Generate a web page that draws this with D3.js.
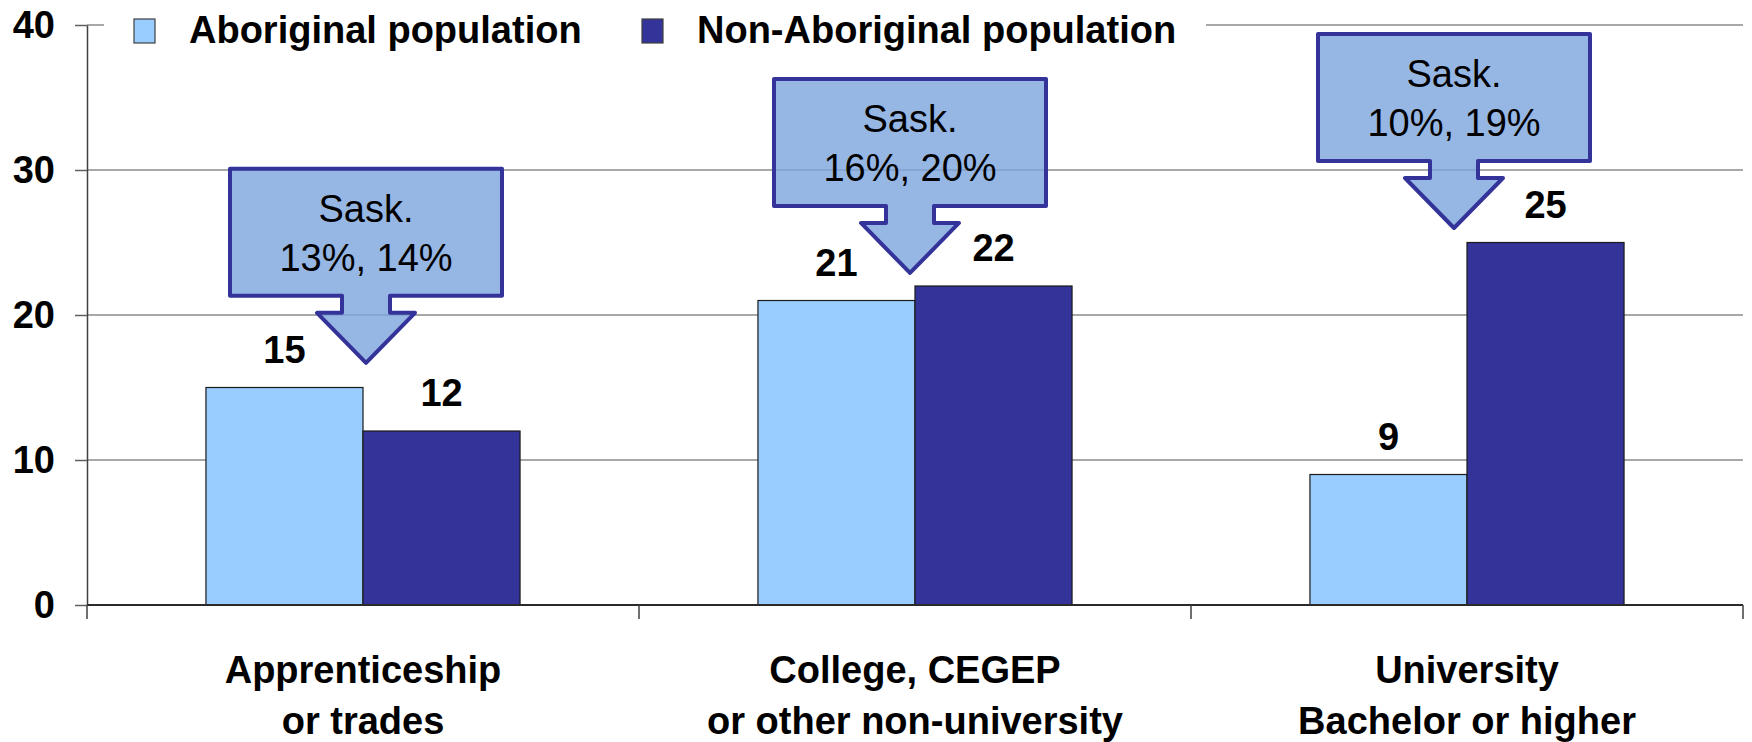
<!DOCTYPE html>
<html>
<head>
<meta charset="utf-8">
<script src="https://cdn.jsdelivr.net/npm/d3@7"></script>
<style>
  html, body { margin: 0; padding: 0; background: #fff; }
  svg { display: block; }
  text { font-family: "Liberation Sans", Arial, Helvetica, sans-serif; fill: #000; }
</style>
</head>
<body>
<svg id="chart" width="1752" height="742"></svg>
<script>
// Education attainment by population group (%)
const categories = [
  ["Apprenticeship", "or trades"],
  ["College, CEGEP", "or other non-university"],
  ["University", "Bachelor or higher"]
];
const categoryKeys = ["apprentice", "college", "university"];
const seriesNames = ["Aboriginal population", "Non-Aboriginal population"];
const aboriginal = [15, 21, 9];
const nonAboriginal = [12, 22, 25];
const yTicks = [0, 10, 20, 30, 40];

// Saskatchewan comparison call-outs
const calloutLines = [
  ["Sask.", "13%, 14%"],
  ["Sask.", "16%, 20%"],
  ["Sask.", "10%, 19%"]
];
const calloutTipValues = [16.7, 22.9, 26.0];
const calloutNudge = [3, -5, -13];

const seriesColors = ["#99CCFF", "#333399"];

const svg = d3.select("#chart");
const plotLeft = 87, plotRight = 1743, plotTop = 25, plotBottom = 605;

const x0 = d3.scaleBand().domain(categoryKeys).range([plotLeft, plotRight]).padding(0);
const bw = x0.bandwidth();
const x1 = d3.scaleBand().domain(seriesNames).range([bw * 0.2155, bw * 0.7845]).padding(0);
const y = d3.scaleLinear().domain([0, 40]).range([plotBottom, plotTop]);
const color = d3.scaleOrdinal().domain(seriesNames).range(seriesColors);

const rows = categoryKeys.map((k, i) => ({
  key: k,
  values: [
    { series: seriesNames[0], value: aboriginal[i] },
    { series: seriesNames[1], value: nonAboriginal[i] }
  ]
}));

// Gridlines
svg.append("g")
  .selectAll("line")
  .data(yTicks.filter(t => t > 0))
  .join("line")
  .attr("x1", plotLeft).attr("x2", plotRight)
  .attr("y1", d => y(d)).attr("y2", d => y(d))
  .attr("stroke", "#a8a8a8").attr("stroke-width", 2);

// Bars
const groups = svg.append("g")
  .selectAll("g")
  .data(rows)
  .join("g")
  .attr("transform", d => `translate(${x0(d.key)},0)`);

groups.selectAll("rect")
  .data(d => d.values)
  .join("rect")
  .attr("x", d => x1(d.series))
  .attr("y", d => y(d.value))
  .attr("width", x1.bandwidth())
  .attr("height", d => y(0) - y(d.value))
  .attr("fill", d => color(d.series))
  .attr("stroke", "#1a1a1a")
  .attr("stroke-width", 1.2);

// Value labels
groups.selectAll("text.value")
  .data(d => d.values)
  .join("text")
  .attr("class", "value")
  .attr("x", d => x1(d.series) + x1.bandwidth() / 2)
  .attr("y", d => y(d.value) - 25)
  .attr("text-anchor", "middle")
  .style("font-size", "38px")
  .style("font-weight", "bold")
  .text(d => d.value);

// Call-out arrows
const boxW = 272, boxH = 127, stemW = 48, stemL = 17, headW = 98, headH = 50;
function calloutPath(cx, tipY) {
  const t = tipY - (boxH + stemL + headH);
  const b = t + boxH, s = b + stemL;
  return `M${cx - boxW / 2},${t}H${cx + boxW / 2}V${b}H${cx + stemW / 2}V${s}` +
         `H${cx + headW / 2}L${cx},${tipY}L${cx - headW / 2},${s}H${cx - stemW / 2}V${b}H${cx - boxW / 2}Z`;
}
const callouts = svg.append("g")
  .selectAll("g")
  .data(categoryKeys.map((k, i) => ({
    cx: x0(k) + bw / 2 + calloutNudge[i],
    tip: y(calloutTipValues[i]),
    lines: calloutLines[i]
  })))
  .join("g");

callouts.append("path")
  .attr("d", d => calloutPath(d.cx, d.tip))
  .attr("fill", "#7ca4dd")
  .attr("fill-opacity", 0.8)
  .attr("stroke", "#333399")
  .attr("stroke-width", 4)
  .attr("stroke-linejoin", "round");

callouts.each(function(d) {
  const t = d.tip - (boxH + stemL + headH);
  d3.select(this).selectAll("text")
    .data(d.lines)
    .join("text")
    .attr("x", d.cx)
    .attr("y", (l, j) => t + 53 + j * 49)
    .attr("text-anchor", "middle")
    .style("font-size", "38px")
    .text(l => l);
});

// Y axis
const yAxis = svg.append("g")
  .attr("transform", `translate(${plotLeft},0)`)
  .call(d3.axisLeft(y).tickValues(yTicks).tickSize(12).tickPadding(20).tickSizeOuter(0));
yAxis.select(".domain").attr("stroke", "#404040").attr("stroke-width", 1.5);
yAxis.selectAll(".tick line").attr("stroke", "#606060").attr("stroke-width", 1.5);
yAxis.selectAll(".tick text")
  .style("font-family", "'Liberation Sans', Arial, sans-serif")
  .style("font-size", "38px")
  .style("font-weight", "bold")
  .attr("fill", "#000");

// X axis baseline and category separators
svg.append("line")
  .attr("x1", plotLeft).attr("x2", plotRight)
  .attr("y1", y(0)).attr("y2", y(0))
  .attr("stroke", "#2a2a2a").attr("stroke-width", 2);

svg.append("g")
  .selectAll("line")
  .data(categoryKeys.map(k => x0(k)).concat([plotRight]))
  .join("line")
  .attr("x1", d => d).attr("x2", d => d)
  .attr("y1", y(0)).attr("y2", y(0) + 14)
  .attr("stroke", "#404040").attr("stroke-width", 1.5);

// Category labels
const xAxis = svg.append("g")
  .attr("transform", `translate(0,${y(0)})`)
  .call(d3.axisBottom(x0).tickSize(0).tickFormat(() => ""));
xAxis.select(".domain").remove();
xAxis.selectAll(".tick").each(function(k) {
  const lines = categories[categoryKeys.indexOf(k)];
  const txt = d3.select(this).select("text")
    .attr("y", 0).attr("dy", null)
    .style("font-family", "'Liberation Sans', Arial, sans-serif")
    .style("font-size", "38px")
    .style("font-weight", "bold")
    .attr("fill", "#000");
  txt.selectAll("tspan")
    .data(lines)
    .join("tspan")
    .attr("x", 0)
    .attr("y", (l, j) => 78 + j * 51)
    .text(l => l);
});

// Legend
const legend = svg.append("g");
legend.append("rect")
  .attr("x", 104).attr("y", 0).attr("width", 1102).attr("height", 50)
  .attr("fill", "#fff");
const legendX = [134, 642];
const items = legend.selectAll("g.item")
  .data(seriesNames)
  .join("g")
  .attr("class", "item")
  .attr("transform", (d, i) => `translate(${legendX[i]},0)`);
items.append("rect")
  .attr("x", 0).attr("y", 19).attr("width", 21).attr("height", 24)
  .attr("fill", d => color(d))
  .attr("stroke", "#404040").attr("stroke-width", 1.2);
items.append("text")
  .attr("x", 55).attr("y", 43)
  .style("font-size", "38px")
  .style("font-weight", "bold")
  .text(d => d);
</script>
</body>
</html>
